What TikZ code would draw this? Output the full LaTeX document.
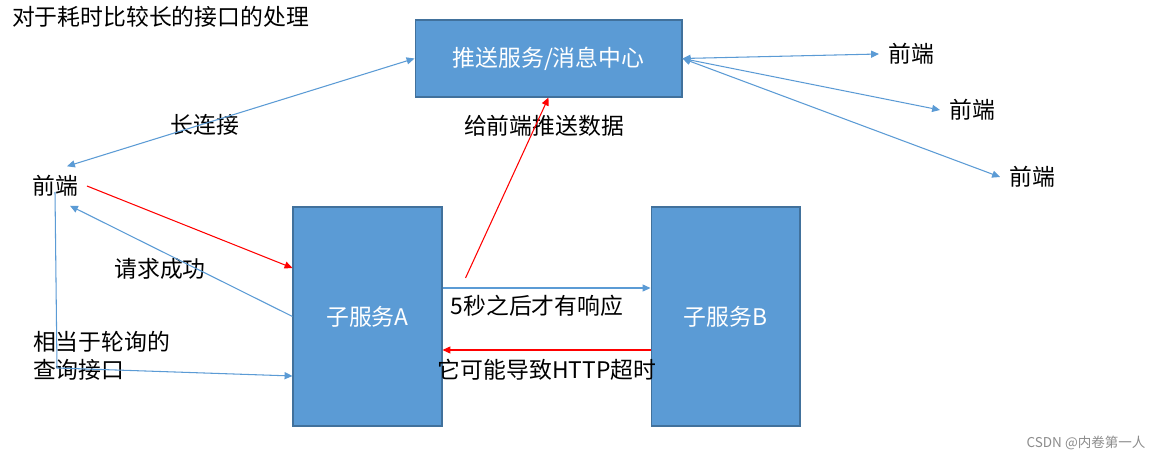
\documentclass[tikz,border=0pt]{standalone}
\usepackage{fontspec}
\setmainfont{Noto Sans CJK SC}
\definecolor{boxblue}{RGB}{91,155,213}
\definecolor{boxedge}{RGB}{65,113,156}
\definecolor{lineblue}{RGB}{91,155,213}
\usetikzlibrary{positioning,arrows.meta}

\begin{document}
\begin{tikzpicture}[x=0.02cm, y=-0.02cm,
    txt/.style={font=\fontsize{13}{16}\selectfont, inner sep=1pt, align=left},
    svc/.style={draw=boxedge, line width=0.6pt, fill=boxblue, text=white,
                font=\fontsize{13}{16}\selectfont, inner sep=0pt},
    fe/.style={txt, inner sep=5pt},
    arr/.style={-{Triangle[length=4.5pt,width=4pt]}, lineblue, line width=0.6pt},
    darr/.style={arr, {Triangle[length=4.5pt,width=4pt]}-{Triangle[length=4.5pt,width=4pt]}},
    rarr/.style={arr, red},
]
\useasboundingbox[fill=white] (0,0) rectangle (1158,463);

% --- NODES ---
\node[txt, anchor=west] (title) at (10,17) {对于耗时比较长的接口的处理};

\node[svc, minimum width=5.34cm, minimum height=1.54cm] (push) at (548.5,58.5)
    {推送服务/消息中心};
\node[svc, minimum width=2.98cm, minimum height=4.38cm] (svcA) at (367.5,316.5)
    {子服务A};
\node[svc, minimum width=2.98cm, minimum height=4.38cm] (svcB) at (725.5,316.5)
    {子服务B};

% front ends
\node[fe] (feL) at (55,186) {前端};
\node[fe] (feR1) at (911,54) {前端};
\node[fe] (feR2) at (972,110) {前端};
\node[fe] (feR3) at (1032,177) {前端};

% labels
\node[txt] (lblLong) at (205,125) {长连接};
\node[txt] (lblPush) at (544,126) {给前端推送数据};
\node[txt] (lblOk) at (160,269) {请求成功};
\node[txt, anchor=west] (lblPoll) at (31,356) {相当于轮询的\\查询接口};
\node[txt] (lbl5s) at (537,306) {5秒之后才有响应};
\node[txt] (lblHttp) at (547,370) {它可能导致HTTP超时};
\node[font=\fontsize{7.7}{9}\selectfont, text=black!45, inner sep=0pt]
    (mark) at (1086,443) {CSDN @内卷第一人};

\coordinate (pollTurn) at (57,368);

% --- ARROWS ---
\draw[darr] (push.west) -- ([xshift=-0.4cm]feL.north east);

\draw[darr] (push.east) -- (feR1.west);
\draw[darr] (push.east) -- (feR2.west);
\draw[darr] (push.east) -- (feR3.west);

\draw[rarr] (feL.east) -- ([yshift=0.97cm]svcA.west);
\draw[arr] (svcA.west) -- ([xshift=-0.34cm]feL.south east);
\draw[arr] ([yshift=-0.12cm]feL.center) -- (pollTurn)
    -- ([yshift=-1.19cm]svcA.west);

\draw[rarr] ([shift={(23,-38.5)}]svcA.east) -- (push.south);

\draw[arr] ([yshift=0.57cm]svcA.east) -- ([yshift=0.57cm]svcB.west);
\draw[rarr] ([yshift=-0.67cm]svcB.west) -- ([yshift=-0.67cm]svcA.east);

\end{tikzpicture}
\end{document}
